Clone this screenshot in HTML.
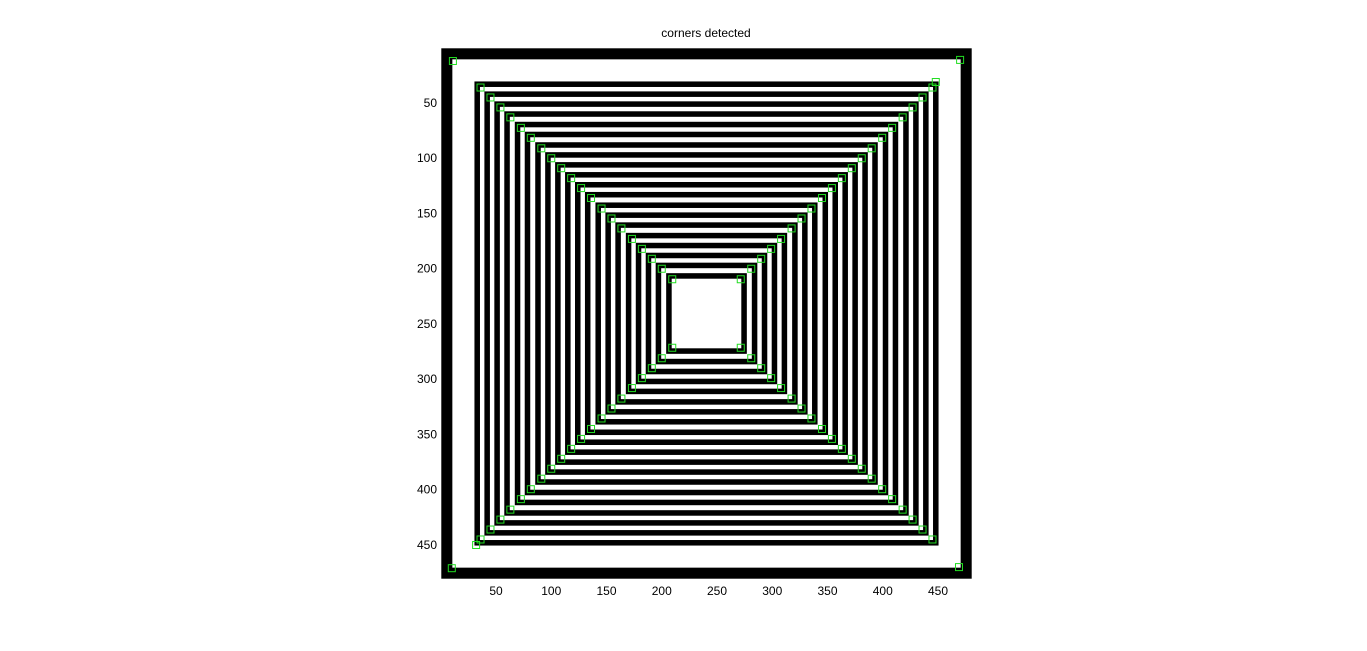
<!DOCTYPE html>
<html><head><meta charset="utf-8"><style>
body{margin:0;background:#fff;width:1367px;height:651px;overflow:hidden;font-family:"Liberation Sans",sans-serif}
</style></head><body>
<svg id="c" width="1367" height="651" style="position:absolute;left:0;top:0">
<text x="706" y="37" text-anchor="middle" font-size="12" fill="#000">corners detected</text>
<g id="img"></g>
<g id="marks"></g>
<g id="ticks"></g>
</svg>
<script>
const xTicks=[50,100,150,200,250,300,350,400,450];
const yTicks=[50,100,150,200,250,300,350,400,450];
const ringHalf=[210,201,192,183,173.5,164.5,155,146,137,128,119,110,100.5,91.5,82.5,73,64,55,46,36.5];
const ringBlack=5;
const centerU=[240.5,240.5];
const frameMarks=[[11,12],[470,11],[10,471],[469,470],[32,450],[448,31]];
const S=1.105,X0=441.3,Y0=48.3;
const sx=u=>X0+(u-0.5)*S, sy=u=>Y0+(u-0.5)*S;
const NS='http://www.w3.org/2000/svg';
function mk(t,a,p){const e=document.createElementNS(NS,t);for(const k in a)e.setAttribute(k,a[k]);p.appendChild(e);return e;}
const img=document.getElementById('img'),marks=document.getElementById('marks'),ticks=document.getElementById('ticks');
let r=mk('rect',{x:sx(0.5),y:sy(0.5),width:480*S,height:480*S,fill:'#000'},img);


r=mk('rect',{x:sx(10.5),y:sy(10.5),width:460*S,height:460*S,fill:'#fff'},img);


const cx=sx(centerU[0]),cy=sy(centerU[1]);
ringHalf.forEach((h,i)=>{
  let b=mk('rect',{x:cx-h*S,y:cy-h*S,width:2*h*S,height:2*h*S,fill:'#000'},img);
  
  
  const w=h-ringBlack;
  let wt=mk('rect',{x:cx-w*S,y:cy-w*S,width:2*w*S,height:2*w*S,fill:'#fff'},img);
  
  
  const c=(h-5.5)*S;
  [[-1,-1],[1,-1],[-1,1],[1,1]].forEach(([dx,dy])=>{
    let m=mk('rect',{x:cx+dx*c-3.5,y:cy+dy*c-3.5,width:7,height:7,fill:'none',stroke:'#22dd22','stroke-width':1},marks);
    
    
  });
});
frameMarks.forEach(([u,v])=>{
  let m=mk('rect',{x:sx(u)-3.5,y:sy(v)-3.5,width:7,height:7,fill:'none',stroke:'#22dd22','stroke-width':1},marks);
  
  
});
xTicks.forEach(t=>{
  let e=mk('text',{x:sx(t),y:595,'text-anchor':'middle','font-size':12,fill:'#000'},ticks);
  e.textContent=t;
  
  
});
yTicks.forEach(t=>{
  let e=mk('text',{x:437,y:sy(t)+4,'text-anchor':'end','font-size':12,fill:'#000'},ticks);
  e.textContent=t;
  
  
});
</script>
</body></html>
